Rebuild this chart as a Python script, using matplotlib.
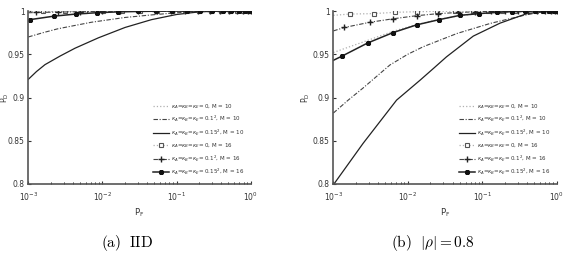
import numpy as np
import matplotlib
matplotlib.use('Agg')
import matplotlib.pyplot as plt
from matplotlib.ticker import FixedLocator, FixedFormatter, LogLocator, NullFormatter

# P_F given as log10 exponents, P_D
# (a) IID
a_k0_m10_x = [-3, -2, -1, 0]
a_k0_m10_y = [0.9995, 0.9998, 1.0, 1.0]
a_k1_m10_x = [-3, -2.8, -2.6, -2.15, -1.7, -1.34, -1.0, -0.7, -0.4, 0]
a_k1_m10_y = [0.970, 0.975, 0.9795, 0.987, 0.9925, 0.9955, 0.998, 0.9993, 1.0, 1.0]
a_k2_m10_x = [-3, -2.89, -2.775, -2.57, -2.37, -2.055, -1.695, -1.34, -1.0, -0.7, -0.4, 0]
a_k2_m10_y = [0.921, 0.930, 0.938, 0.948, 0.957, 0.969, 0.981, 0.990, 0.996, 0.999, 1.0, 1.0]
a_k0_m16_x = [-3, -2.80, -2.51, -2.23, -1.99, -1.74, -1.50, -1.27, -1.06, -0.87, -0.70,
              -0.54, -0.40, -0.28, -0.18, -0.10, -0.04, 0]
a_k0_m16_y = [0.9996, 0.9997, 0.9998, 0.9998, 0.9999, 0.9999, 1, 1, 1, 1, 1,
              1, 1, 1, 1, 1, 1, 1]
a_k1_m16_x = [-3, -2.89, -2.60, -2.30, -2.01, -1.76, -1.52, -1.29, -1.08, -0.89, -0.71,
              -0.55, -0.41, -0.29, -0.19, -0.10, -0.04, 0]
a_k1_m16_y = [0.998, 0.9983, 0.9988, 0.9992, 0.9995, 0.9997, 0.9998, 0.9999, 1, 1, 1,
              1, 1, 1, 1, 1, 1, 1]
a_k2_m16_x = [-3, -2.98, -2.66, -2.36, -2.08, -1.79, -1.52, -1.28, -1.06, -0.86, -0.68,
              -0.52, -0.38, -0.26, -0.16, -0.08, -0.02, 0]
a_k2_m16_y = [0.9898, 0.990, 0.994, 0.9965, 0.998, 0.999, 0.9995, 0.9998, 1, 1, 1,
              1, 1, 1, 1, 1, 1, 1]

# (b) |rho| = 0.8
b_k0_m10_x = [-3, -2.87, -2.54, -2.2, -1.88, -1.58, -1.3, -1.0, -0.6, -0.3, 0]
b_k0_m10_y = [0.952, 0.956, 0.966, 0.9765, 0.9845, 0.9902, 0.9948, 0.9972, 0.9992, 1.0, 1.0]
b_k1_m10_x = [-3, -2.8, -2.6, -2.24, -2.0, -1.79, -1.34, -0.89, -0.44, -0.2, 0]
b_k1_m10_y = [0.882, 0.897, 0.911, 0.9376, 0.950, 0.9588, 0.974, 0.9857, 0.995, 0.999, 1.0]
b_k2_m10_x = [-3, -2.6, -2.15, -1.835, -1.65, -1.48, -1.12, -0.76, -0.4, -0.1, 0]
b_k2_m10_y = [0.799, 0.847, 0.897, 0.920, 0.934, 0.947, 0.971, 0.986, 0.997, 1.0, 1.0]
b_k0_m16_x = [-3, -2.78, -2.46, -2.17, -1.88, -1.61, -1.36, -1.13, -0.92, -0.73, -0.56,
              -0.41, -0.28, -0.18, -0.10, -0.04, 0]
b_k0_m16_y = [0.995, 0.9965, 0.997, 0.9985, 0.9992, 0.9996, 0.9998, 1, 1, 1, 1,
              1, 1, 1, 1, 1, 1]
b_k1_m16_x = [-3, -2.85, -2.51, -2.20, -1.88, -1.59, -1.33, -1.09, -0.88, -0.69, -0.52,
              -0.38, -0.26, -0.16, -0.08, -0.02, 0]
b_k1_m16_y = [0.977, 0.981, 0.987, 0.991, 0.9946, 0.997, 0.9983, 0.9991, 0.9996, 0.9998, 1,
              1, 1, 1, 1, 1, 1]
b_k2_m16_x = [-3, -2.88, -2.54, -2.20, -1.88, -1.58, -1.30, -1.04, -0.80, -0.60, -0.43,
              -0.29, -0.18, -0.10, -0.04, 0]
b_k2_m16_y = [0.943, 0.948, 0.963, 0.975, 0.984, 0.990, 0.995, 0.997, 0.9985, 0.9993, 0.9997,
              1, 1, 1, 1, 1]

labels = [r'$\kappa_A$=$\kappa_B$=$\kappa_E$= 0, M = 10',
          r'$\kappa_A$=$\kappa_B$=$\kappa_E$= 0.1$^2$, M = 10',
          r'$\kappa_A$=$\kappa_B$=$\kappa_E$= 0.15$^2$, M = 10',
          r'$\kappa_A$=$\kappa_B$=$\kappa_E$= 0, M = 16',
          r'$\kappa_A$=$\kappa_B$=$\kappa_E$= 0.1$^2$, M = 16',
          r'$\kappa_A$=$\kappa_B$=$\kappa_E$= 0.15$^2$, M = 16']

yticks = [0.8, 0.85, 0.9, 0.95, 1.0]
ytick_labels = ['0.8', '0.85', '0.9', '0.95', '1']

styles = [
    dict(color='#b0b0b0', ls=':', lw=0.9),
    dict(color='#444444', ls=(0, (4, 1.5, 1, 1.5)), lw=0.8),
    dict(color='#222222', ls='-', lw=0.9),
    dict(color='#b0b0b0', ls=':', lw=0.9, marker='s', ms=3.0, mfc='white',
         mec='#555555', mew=0.8, markevery=slice(1, None)),
    dict(color='#444444', ls=(0, (4, 1.5, 1, 1.5)), lw=0.8, marker='+', ms=4.5,
         mec='#222222', mew=1.0, markevery=slice(1, None)),
    dict(color='#222222', ls='-', lw=1.1, marker=(6, 2, 0), ms=3.6,
         mec='#111111', mew=1.3, markevery=slice(1, None)),
]

plt.rcParams['mathtext.fontset'] = 'dejavusans'
fig = plt.figure(figsize=(5.8, 2.54), dpi=100)

panels = [
    ([0.0488, 0.2756, 0.3835, 0.681], -0.076,
     [(a_k0_m10_x, a_k0_m10_y), (a_k1_m10_x, a_k1_m10_y), (a_k2_m10_x, a_k2_m10_y),
      (a_k0_m16_x, a_k0_m16_y), (a_k1_m16_x, a_k1_m16_y), (a_k2_m16_x, a_k2_m16_y)]),
    ([0.5747, 0.2756, 0.385, 0.681], -0.097,
     [(b_k0_m10_x, b_k0_m10_y), (b_k1_m10_x, b_k1_m10_y), (b_k2_m10_x, b_k2_m10_y),
      (b_k0_m16_x, b_k0_m16_y), (b_k1_m16_x, b_k1_m16_y), (b_k2_m16_x, b_k2_m16_y)]),
]

for pos, ylab_x, series in panels:
    ax = fig.add_axes(pos)
    for (lx, py), st, lab in zip(series, styles, labels):
        ax.plot(10.0 ** np.array(lx), py, label=lab, **st)
    ax.set_xscale('log')
    ax.set_xlim(1e-3, 1)
    ax.set_ylim(0.8, 1.0)
    ax.yaxis.set_major_locator(FixedLocator(yticks))
    ax.yaxis.set_major_formatter(FixedFormatter(ytick_labels))
    ax.xaxis.set_major_locator(LogLocator(base=10, numticks=10))
    ax.xaxis.set_minor_locator(LogLocator(base=10, subs=np.arange(2, 10), numticks=10))
    ax.xaxis.set_minor_formatter(NullFormatter())
    ax.tick_params(direction='in', labelsize=5.5, colors='#333333', length=2.5, width=0.8)
    ax.tick_params(axis='y', pad=2.5)
    ax.tick_params(axis='x', pad=4.5)
    ax.tick_params(which='minor', direction='in', length=1.5, width=0.6)
    for s in ['top', 'right']:
        ax.spines[s].set_visible(False)
    for s in ['left', 'bottom']:
        ax.spines[s].set_color('#555555')
        ax.spines[s].set_linewidth(1.2)
    ax.set_xlabel(r'P$_\mathrm{F}$', fontsize=6, color='#333333', labelpad=3)
    ax.set_ylabel(r'P$_\mathrm{D}$', fontsize=5.5, color='#333333')
    ax.yaxis.set_label_coords(ylab_x, 0.5)
    leg = ax.legend(loc='lower right', frameon=False, fontsize=4.0, handlelength=2.9,
                    labelspacing=0.62, handletextpad=0.35, borderaxespad=0.8)
    for t in leg.get_texts():
        t.set_color('#333333')

fig.text(127 / 580, 1 - 243 / 254, r'$\mathrm{(a)\ \ IID}$', ha='center', va='center',
         fontsize=11, math_fontfamily='cm')
fig.text(433 / 580, 1 - 243 / 254, r'$\mathrm{(b)}\ \ |\rho| = 0.8$', ha='center', va='center',
         fontsize=11, math_fontfamily='cm')

fig.savefig('out.png', dpi=100)
